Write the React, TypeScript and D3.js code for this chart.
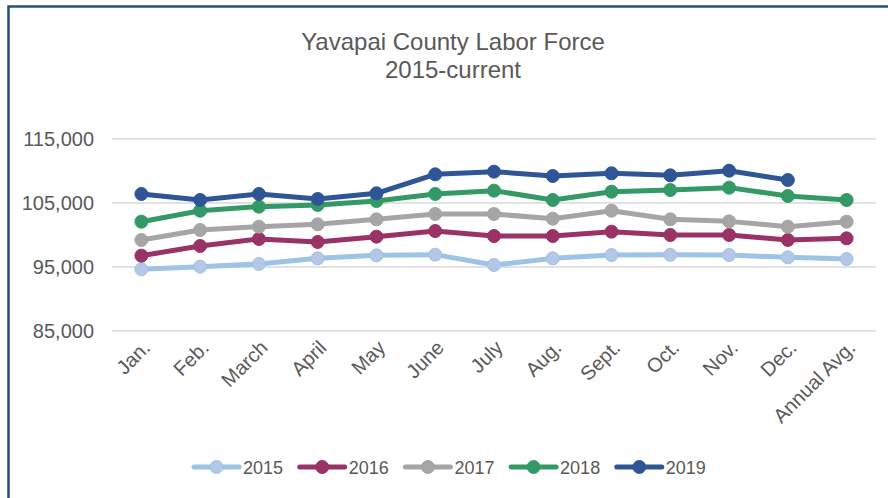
import React, { useEffect, useRef } from "react";
import * as d3 from "d3";

const months = [
  "Jan.", "Feb.", "March", "April", "May", "June", "July",
  "Aug.", "Sept.", "Oct.", "Nov.", "Dec.", "Annual Avg."
];

const y2015 = [94650, 95050, 95470, 96350, 96820, 96930, 95310, 96350, 96870, 96900, 96870, 96510, 96250];
const y2016 = [96770, 98280, 99380, 98910, 99740, 100620, 99840, 99840, 100520, 100000, 100000, 99220, 99480];
const y2017 = [99220, 100780, 101300, 101670, 102450, 103280, 103280, 102550, 103800, 102450, 102130, 101300, 102080];
const y2018 = [102080, 103800, 104430, 104690, 105310, 106410, 106930, 105470, 106770, 107030, 107400, 106090, 105470];
const y2019 = [106410, 105470, 106410, 105630, 106510, 109480, 109900, 109220, 109640, 109320, 110050, 108590];

const yTicks = [85000, 95000, 105000, 115000];

const series = [
  { name: "2015", values: y2015, line: "#9DC3E6", dot: "#B4C7E7" },
  { name: "2016", values: y2016, line: "#993366", dot: "#993366" },
  { name: "2017", values: y2017, line: "#A5A5A5", dot: "#A5A5A5" },
  { name: "2018", values: y2018, line: "#339966", dot: "#339966" },
  { name: "2019", values: y2019, line: "#2F5597", dot: "#2F5597" }
];

const W = 888;
const H = 498;
const font = "'Liberation Sans', Arial, sans-serif";

export default function App() {
  const ref = useRef<SVGSVGElement>(null);

  useEffect(() => {
    const svg = d3.select(ref.current);
    svg.selectAll("*").remove();

    svg.append("rect").attr("width", W).attr("height", H).attr("fill", "#fff");

    // outer frame (runs off the right and bottom edges)
    svg
      .append("rect")
      .attr("x", 8.5)
      .attr("y", 6.5)
      .attr("width", 900)
      .attr("height", 520)
      .attr("fill", "none")
      .attr("stroke", "#24507F")
      .attr("stroke-width", 2.5);

    const x = d3.scaleBand().domain(months).range([112, 876]);
    const y = d3.scaleLinear().domain([85000, 115000]).range([331, 139]);

    // title
    const title = svg
      .append("text")
      .attr("text-anchor", "middle")
      .attr("font-family", font)
      .attr("font-size", 24)
      .attr("fill", "#595959");
    title.append("tspan").attr("x", 453).attr("y", 50).text("Yavapai County Labor Force");
    title.append("tspan").attr("x", 453).attr("y", 78).text("2015-current");

    // gridlines
    svg
      .selectAll("line.grid")
      .data(yTicks)
      .enter()
      .append("line")
      .attr("class", "grid")
      .attr("x1", 112)
      .attr("x2", 876)
      .attr("y1", d => y(d))
      .attr("y2", d => y(d))
      .attr("stroke", "#D9D9D9")
      .attr("stroke-width", 1.5);

    // y labels
    svg
      .selectAll("text.ytick")
      .data(yTicks)
      .enter()
      .append("text")
      .attr("class", "ytick")
      .attr("x", 94)
      .attr("y", d => y(d) + 7)
      .attr("text-anchor", "end")
      .attr("font-family", font)
      .attr("font-size", 20)
      .attr("fill", "#595959")
      .text(d => d3.format(",")(d));

    // x labels
    svg
      .selectAll("text.xtick")
      .data(months)
      .enter()
      .append("text")
      .attr("class", "xtick")
      .attr("text-anchor", "end")
      .attr("font-family", font)
      .attr("font-size", 20)
      .attr("fill", "#595959")
      .attr("transform", d => `translate(${x(d)! + x.bandwidth() / 2 + 10},${349}) rotate(-45)`)
      .text(d => d);

    const line = d3
      .line<number>()
      .x((d, i) => x(months[i])! + x.bandwidth() / 2)
      .y(d => y(d));

    series.forEach(s => {
      const g = svg.append("g");
      g.append("path")
        .attr("d", line(s.values))
        .attr("fill", "none")
        .attr("stroke", s.line)
        .attr("stroke-width", 5)
        .attr("stroke-linejoin", "round");
      g.selectAll("circle")
        .data(s.values)
        .enter()
        .append("circle")
        .attr("cx", (d, i) => x(months[i])! + x.bandwidth() / 2)
        .attr("cy", d => y(d))
        .attr("r", 6.5)
        .attr("fill", s.dot)
        .attr("stroke", s.line)
        .attr("stroke-width", 1);
    });

    // legend
    const legend = svg
      .selectAll("g.legend")
      .data(series)
      .enter()
      .append("g")
      .attr("class", "legend")
      .attr("transform", (d, i) => `translate(${194 + i * 105.7},467)`);
    legend
      .append("line")
      .attr("x1", 0)
      .attr("x2", 45)
      .attr("stroke", d => d.line)
      .attr("stroke-width", 5)
      .attr("stroke-linecap", "round");
    legend
      .append("circle")
      .attr("cx", 22.5)
      .attr("r", 6.5)
      .attr("fill", d => d.dot)
      .attr("stroke", d => d.line);
    legend
      .append("text")
      .attr("x", 49)
      .attr("y", 6.5)
      .attr("font-family", font)
      .attr("font-size", 18)
      .attr("fill", "#595959")
      .text(d => d.name);
  }, []);

  return (
    <svg
      ref={ref}
      width={W}
      height={H}
      style={{ position: "absolute", left: 0, top: 0, display: "block" }}
    />
  );
}
